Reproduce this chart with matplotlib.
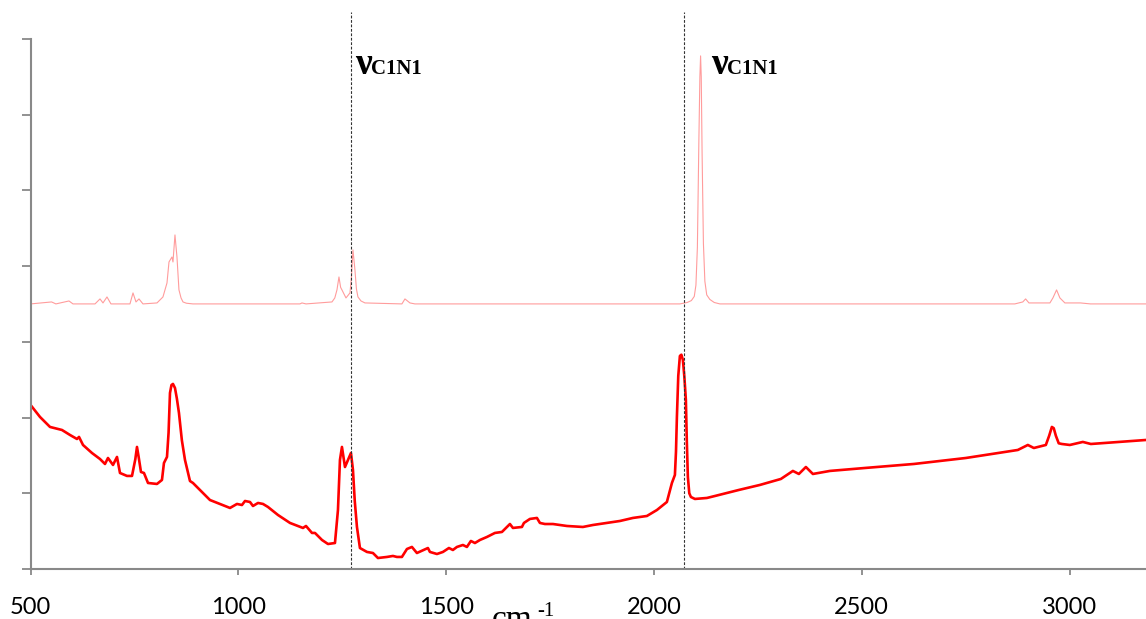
import matplotlib
matplotlib.use("Agg")
import matplotlib.pyplot as plt
from matplotlib.transforms import blended_transform_factory

# measured spectrum (lower trace, bright red)
wn_meas = [500, 522.6, 546.7, 575.5, 594.8, 611.6, 616.5, 626.1, 647.7, 666.9,
           679.0, 686.2, 698.3, 707.9, 715.1, 731.9, 744.0, 752.0, 756.0, 760.0, 765.6, 772.8,
           782.5, 804.1, 816.1, 820.9, 828.2, 832.0, 835.4, 839.0, 842.6, 847.4, 852.0, 857.0, 864.0, 871.5,
           883.5, 890.7, 912.4, 931.6, 955.7, 979.8, 996.6, 1008.6, 1015.9, 1027.9,
           1035.1, 1047.2, 1059.2, 1071.2, 1095.3, 1124.2, 1155.4, 1162.7, 1177.1, 1184.3,
           1201.2, 1215.6, 1232.4, 1239.6, 1244.4, 1249.2, 1256.5, 1263.7, 1270.9, 1275.7,
           1280.0, 1285.3, 1292.5, 1309.4, 1323.8, 1335.8, 1357.5, 1371.9, 1381.5, 1393.5, 1405.6,
           1417.6, 1429.6, 1456.1, 1460.9, 1477.8, 1492.2, 1506.6, 1516.2, 1525.9, 1540.3,
           1549.9, 1559.5, 1569.2, 1581.2, 1598.1, 1617.3, 1634.2, 1653.4, 1660.6, 1682.3,
           1687.1, 1701.5, 1718.4, 1725.6, 1737.6, 1756.9, 1790.6, 1829.0, 1853.1, 1886.8,
           1918.1, 1949.3, 1983.0, 2007.1, 2031.1, 2043.2, 2050.4, 2053.0, 2055.2, 2058.5, 2062.4,
           2066.0, 2069.6, 2073.0, 2076.8, 2079.0, 2081.6, 2085.0, 2088.9, 2098.5, 2127.4,
           2146.6, 2204.4, 2254.9, 2305.4, 2334.3,
           2348.7, 2365.6, 2382.4, 2423.3, 2507.5, 2625.4, 2750.5, 2875.6, 2899.7, 2914.1,
           2943.0, 2951.0, 2957.5, 2962.0, 2967.1, 2974.0, 2981.5, 3000.7, 3032.0, 3051.3, 3184]
int_meas = [2.166, 2.008, 1.876, 1.836, 1.770, 1.717, 1.744, 1.638, 1.532, 1.453,
            1.387, 1.466, 1.374, 1.480, 1.268, 1.229, 1.229, 1.450, 1.612, 1.480, 1.281, 1.268,
            1.136, 1.123, 1.176, 1.400, 1.480, 1.800, 2.325, 2.430, 2.444, 2.391, 2.250, 2.061, 1.700, 1.440,
            1.162, 1.136, 1.017, 0.911, 0.859, 0.806, 0.859, 0.845, 0.898, 0.885,
            0.832, 0.872, 0.859, 0.819, 0.713, 0.608, 0.542, 0.568, 0.476, 0.476,
            0.383, 0.330, 0.343, 0.779, 1.440, 1.612, 1.347, 1.440, 1.532, 1.308,
            0.900, 0.555, 0.277, 0.225, 0.211, 0.145, 0.159, 0.172, 0.159, 0.159, 0.264,
            0.291, 0.211, 0.277, 0.225, 0.198, 0.225, 0.277, 0.251, 0.291, 0.317,
            0.291, 0.370, 0.343, 0.383, 0.423, 0.476, 0.489, 0.594, 0.542, 0.555,
            0.608, 0.661, 0.674, 0.608, 0.594, 0.594, 0.568, 0.555, 0.581, 0.608,
            0.634, 0.674, 0.700, 0.779, 0.885, 1.136, 1.242, 1.550, 2.008, 2.550, 2.814,
            2.830, 2.761, 2.550, 2.232, 1.700, 1.215, 1.000, 0.951, 0.925, 0.938,
            0.964, 1.044, 1.110, 1.189, 1.295,
            1.255, 1.347, 1.255, 1.295, 1.334, 1.387, 1.466, 1.572, 1.638, 1.598,
            1.638, 1.760, 1.876, 1.860, 1.760, 1.660, 1.651, 1.638, 1.678, 1.651, 1.704]

# calculated spectrum (upper trace, pale red)
wn_calc = [500, 550.5, 560.9, 592.4, 602.0, 655.0, 667.0, 674.2, 683.8, 693.4,
           739.1, 746.4, 753.6, 760.8, 770.4, 804.1, 818.5, 828.2, 833.0, 840.2,
           842.6, 847.4, 852.2, 857.0, 862.0, 866.7, 875.0, 890.7, 1148.2, 1153.0, 1162.7, 1225.2,
           1232.0, 1237.2, 1242.0, 1246.0, 1249.2, 1258.9, 1268.5, 1272.0, 1275.7, 1280.5, 1284.0,
           1287.7, 1295.0, 1304.6, 1393.5,
           1400.8, 1412.8, 1424.8, 2062.4, 2080.0, 2090.0, 2097.0, 2101.0, 2104.5, 2108.1,
           2110.5, 2112.2, 2113.8, 2115.8, 2119.0, 2122.5, 2127.0, 2134.5, 2145.0, 2158.6,
           2868.3, 2887.5, 2894.3, 2902.3, 2952.8, 2960.0,
           2968.8, 2976.8, 2988.8, 3026.3, 3050.4, 3184]
int_calc = [3.501, 3.527, 3.501, 3.540, 3.501, 3.501, 3.567, 3.514, 3.593, 3.501,
            3.501, 3.646, 3.527, 3.567, 3.501, 3.514, 3.593, 3.778, 4.055, 4.121,
            4.055, 4.412, 4.121, 3.686, 3.580, 3.527, 3.510, 3.501, 3.501, 3.514, 3.501, 3.527,
            3.580, 3.686, 3.857, 3.720, 3.686, 3.580, 3.646, 3.850, 4.214, 3.950, 3.700,
            3.593, 3.540, 3.514, 3.501,
            3.567, 3.514, 3.501, 3.501, 3.520, 3.545, 3.600, 3.750, 4.250, 5.667,
            6.500, 6.777, 6.500, 5.500, 4.300, 3.800, 3.620, 3.560, 3.520, 3.501,
            3.501, 3.527, 3.567, 3.514, 3.514, 3.580,
            3.686, 3.580, 3.514, 3.514, 3.501, 3.501]

marker_wn = [1270, 2073]
label_wn = [1280, 2137]
x_ticks = [500, 1000, 1500, 2000, 2500, 3000]

axis_grey = "#898989"

fig = plt.figure(figsize=(11.46, 6.19), dpi=100)
ax = fig.add_axes([0.0267, 0.0808, 0.9733, 0.8562])

ax.plot(wn_calc, int_calc, color="#ff9c9c", lw=0.8)
ax.plot(wn_meas, int_meas, color="#ff0000", lw=1.9)

for w in marker_wn:
    ax.axvline(w, ymin=0, ymax=7.36 / 7, color="#333333", lw=0.8,
               linestyle=(0, (2.5, 1.5)), clip_on=False)

ax.set_xlim(500, 3184)
ax.set_ylim(0, 7)
ax.set_xticks(x_ticks)
ax.set_yticks(range(8))
ax.set_yticklabels([])

for side in ["top", "right"]:
    ax.spines[side].set_visible(False)
for side in ["left", "bottom"]:
    ax.spines[side].set_color(axis_grey)
    ax.spines[side].set_linewidth(1.5)

ax.tick_params(axis="x", direction="out", length=4.5, width=1.3, color=axis_grey,
               pad=16, labelsize=17)
ax.tick_params(axis="y", direction="out", length=6.5, width=1.3, color=axis_grey)
for lab in ax.get_xticklabels():
    lab.set_fontfamily("Lato")

# nu C1N1 labels
trans = blended_transform_factory(ax.transData, fig.transFigure)
for w in label_wn:
    ax.text(w, 0.8805, "ν", transform=trans, fontsize=27, fontweight="bold",
            family="Liberation Serif", va="baseline", ha="left")
    ax.annotate("C1N1", xy=(w, 0.8805), xycoords=trans, xytext=(11.5, 0),
                textcoords="offset points", fontsize=15, fontweight="bold",
                family="Liberation Serif", va="baseline", ha="left")

# x axis unit, partly below the bottom edge as in the source
fig.text(492 / 1146, -0.014, "cm", fontsize=24, family="Liberation Serif",
         va="baseline", ha="left")
fig.text(537 / 1146, 0.005, "-1", fontsize=15, family="Liberation Serif",
         va="baseline", ha="left")

fig.savefig("out.png", dpi=100)
